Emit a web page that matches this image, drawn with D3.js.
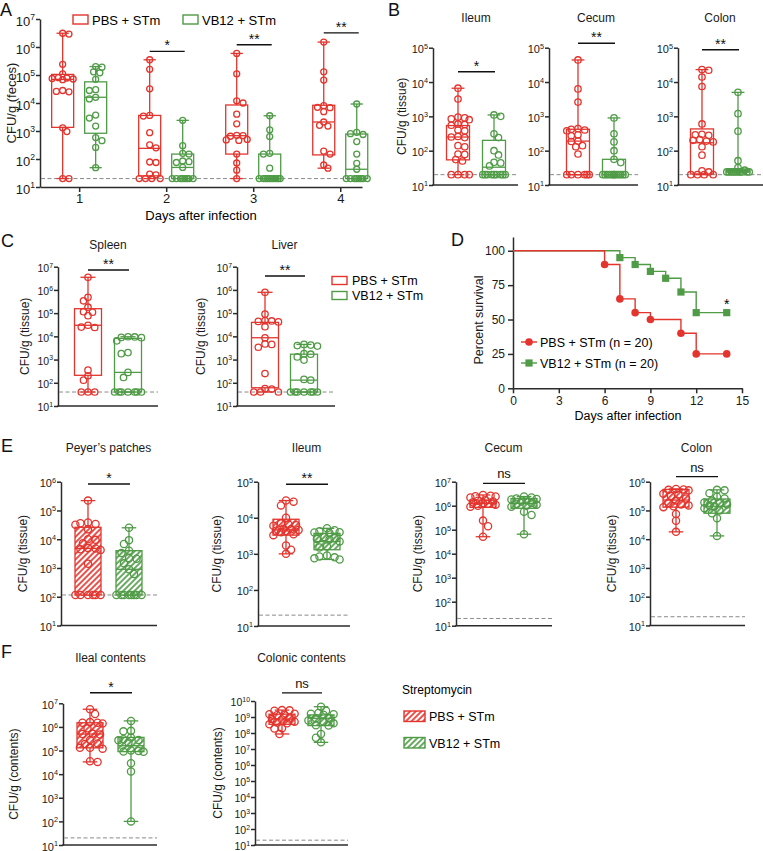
<!DOCTYPE html>
<html><head><meta charset="utf-8">
<script src="https://cdn.jsdelivr.net/npm/d3@7"></script>
<style>
body{margin:0;background:#fff;}
svg{font-family:"Liberation Sans",Arial,Helvetica,sans-serif;}
</style></head><body>
<svg id="fig" width="763" height="851"></svg>
<script>
// ================= DATA =================
const GROUPS = ["PBS + STm", "VB12 + STm"];

// ---- Panel A: feces CFU by day ----
const A_days = [1, 2, 3, 4];
const A_pbs = [
  [3.1e6, 2.9e6, 2.4e5, 1.1e5, 8e4, 7.8e4, 7.5e4, 7.2e4, 6.8e4, 2.8e4, 2.6e4, 2.5e4, 1.3e3, 9.5e2, 20, 20],
  [3.5e5, 1.6e5, 3.2e4, 3.6e3, 3.4e3, 8.7e2, 3.2e2, 2.5e2, 78, 75, 29, 27, 20, 20, 20, 20],
  [5.9e5, 1.1e5, 1.2e4, 1e4, 4e3, 1.8e3, 7e2, 6.8e2, 6.5e2, 4.8e2, 4.6e2, 5e2, 1.5e2, 72, 40, 20],
  [1.5e6, 1.3e5, 6.6e4, 8e3, 7e3, 6.8e3, 4.9e3, 2.1e3, 1.6e3, 1.5e3, 1.9e2, 1.5e2, 61, 47]
];
const A_vb12 = [
  [2e5, 1.9e5, 1.3e5, 1.2e5, 7e4, 3e4, 2.8e4, 1.6e4, 1.4e4, 3.7e3, 2.9e3, 1.5e3, 5.8e2, 4.5e2, 2.6e2, 49],
  [2.4e3, 3e2, 1.6e2, 1.5e2, 85, 80, 75, 50, 20, 20, 20, 20, 20, 20, 20, 20],
  [3.5e3, 1.1e3, 6.3e2, 1.6e2, 1.5e2, 47, 20, 20, 20, 20, 20, 20, 20, 20, 20, 20],
  [9.2e3, 9e2, 8e2, 7.5e2, 4.2e2, 1.5e2, 70, 43, 20, 20, 20, 20, 20, 20, 20, 20]
];
const A_pbsBox = [[1.35e3, 7e4, 1.05e5], [25, 2.4e2, 3.6e3], [1.5e2, 6.8e2, 8.5e3], [1.4e2, 2.1e3, 8.3e3]]; // q1, median, q3
const A_vb12Box = [[8.3e2, 1.6e4, 5.7e4], [20, 50, 1.5e2], [20, 20, 1.5e2], [20, 43, 7.8e2]];
const A_sig = ["", "*", "**", "**"];
const A_sigLevel = [null, 7e5, 1.2e6, 3.2e6];

// ---- Panel B: tissue CFU ----
const B_ileum_pbs = [6.6e3, 3.2e3, 9.5e2, 9e2, 8.5e2, 8e2, 6e2, 5.8e2, 5.5e2, 4e2, 3.8e2, 2.6e2, 2.5e2, 2.4e2, 1.4e2, 1.3e2, 80, 78, 55, 50, 20, 20, 20, 20];
const B_ileum_vb12 = [1.1e3, 1e3, 3.1e2, 2.4e2, 1e2, 75, 46, 44, 36, 20, 20, 20, 20, 20, 20, 20, 20, 20];
const B_cecum_pbs = [4.4e4, 6.3e3, 2.6e3, 4.4e2, 4.2e2, 4e2, 3.8e2, 2.9e2, 2.7e2, 1.9e2, 1.85e2, 1.4e2, 1.3e2, 80, 20, 20, 20, 20, 20, 20];
const B_cecum_vb12 = [9e2, 3.1e2, 1.8e2, 1e2, 56, 45, 20, 20, 20, 20, 20, 20, 20, 20, 20, 20, 20, 20];
const B_colon_pbs = [2.3e4, 2.2e4, 1.4e4, 7.4e3, 6e2, 3e2, 2.9e2, 2.8e2, 2.1e2, 2e2, 1.9e2, 1.8e2, 1.3e2, 74, 26, 24, 20, 20, 20, 20];
const B_colon_vb12 = [5e3, 1.2e3, 3.7e2, 51, 32, 27, 24, 24, 24, 24, 24, 24, 24, 24, 24, 24];
const B_boxes = {
  ileum: [[54, 2.5e2, 5.4e2], [20, 33, 2e2]],
  cecum: [[20, 1.9e2, 4.2e2], [20, 20, 56]],
  colon: [[21, 1.7e2, 4.3e2], [24, 24, 27]]
};

// ---- Panel C: systemic CFU ----
const C_spleen_pbs = [3.5e6, 4.8e5, 3.4e5, 1.8e5, 1.15e5, 1.1e5, 7.8e4, 3e4, 2.5e4, 2.4e4, 3.5e2, 2e2, 1.3e2, 40, 40, 40];
const C_spleen_vb12 = [9.6e3, 9.4e3, 9e3, 8.8e3, 6.4e3, 2e3, 1.8e3, 2.8e2, 1.7e2, 40, 40, 40, 40, 40, 40, 40];
const C_liver_pbs = [7.9e5, 9.1e4, 4.8e4, 4.6e4, 4.4e4, 4.2e4, 2.6e4, 8.7e3, 4.7e3, 4.5e3, 3.4e3, 2.5e2, 56, 54, 40, 40, 40];
const C_liver_vb12 = [4.5e3, 4.2e3, 4e3, 3.8e3, 1.8e3, 1.7e3, 1.3e3, 9.5e2, 1.4e2, 1.3e2, 40, 40, 40, 40, 40, 40, 40];
const C_boxes = {
  spleen: [[2.1e2, 3e4, 1.55e5], [40, 2.8e2, 8.2e3]],
  liver: [[61, 8.7e3, 4e4], [40, 1.3e2, 1.7e3]]
};

// ---- Panel D: survival ----
const D_pbsDays = [0, 6, 7, 8, 9, 11, 12, 14];
const D_pbsSurv = [100, 90, 65, 55, 50, 40, 25, 25];
const D_vb12Days = [0, 7, 8, 9, 10, 11, 12, 14];
const D_vb12Surv = [100, 95, 90, 85, 80, 70, 55, 55];

// ---- Panel E: streptomycin-pretreated tissue CFU ----
const E_pp_pbs = [2.2e5, 3.8e4, 3.6e4, 3.4e4, 3.2e4, 2.2e4, 1e4, 9.5e3, 7.2e3, 5e3, 4.8e3, 4.5e3, 4.2e3, 1.4e3, 115, 115, 115, 115, 115, 115];
const E_pp_vb12 = [2.5e4, 9.3e3, 6.8e3, 4e3, 3.3e3, 2.2e3, 2.1e3, 1.45e3, 9e2, 6.2e2, 115, 115, 115, 115, 115, 115, 115, 115];
const E_ileum_pbs = [3e4, 2.8e4, 2.2e4, 1e4, 7e3, 6.5e3, 6.2e3, 6e3, 5e3, 4.8e3, 4.6e3, 4.4e3, 4.2e3, 4e3, 3.5e3, 3.3e3, 1.7e3, 1.3e3, 1e3];
const E_ileum_vb12 = [5.1e3, 4.5e3, 4.2e3, 4e3, 3.9e3, 3.8e3, 2.9e3, 2.7e3, 2.6e3, 2.5e3, 2.2e3, 1.6e3, 1.5e3, 9e2, 8.5e2, 8e2, 7.5e2, 7e2];
const E_cecum_pbs = [2.8e6, 2.6e6, 2.5e6, 2.4e6, 2.2e6, 1.7e6, 1.6e6, 1.5e6, 1.4e6, 1.3e6, 1.2e6, 1.1e6, 1e6, 9e5, 2.4e5, 1.4e5, 5.1e4];
const E_cecum_vb12 = [2.4e6, 2.2e6, 2e6, 1.9e6, 1.8e6, 1.7e6, 1.5e6, 1.3e6, 1.2e6, 1.1e6, 1e6, 9e5, 5.6e5, 4.1e5, 6.5e4];
const E_colon_pbs = [5.6e5, 5.4e5, 5.2e5, 5e5, 3.8e5, 3.5e5, 3.2e5, 2.6e5, 2.2e5, 1.8e5, 1.6e5, 1.5e5, 1.4e5, 1.3e5, 7.5e4, 4.4e4, 1.8e4];
const E_colon_vb12 = [5.2e5, 5e5, 4e5, 3e5, 2.6e5, 2.2e5, 1.9e5, 1.8e5, 1.6e5, 1.5e5, 1.4e5, 1.2e5, 1e5, 8e4, 5.4e4, 1.3e4];
const E_boxes = {
  pp: [[115, 4.8e3, 2.6e4], [115, 9e2, 4e3]],
  ileum: [[3.3e3, 4.6e3, 9.1e3], [1.3e3, 2.2e3, 3.7e3]],
  cecum: [[8.5e5, 1.26e6, 1.7e6], [7.8e5, 1.25e6, 2e6]],
  colon: [[1.3e5, 2.3e5, 5.4e5], [8e4, 1.4e5, 2.5e5]]
};

// ---- Panel F: luminal contents CFU ----
const F_ileal_pbs = [5.6e6, 3.5e6, 1.6e6, 1.5e6, 1.5e6, 1.4e6, 8.7e5, 5.2e5, 5e5, 4.8e5, 2.8e5, 2e5, 1.9e5, 1.3e5, 1.3e5, 1.2e5, 3.5e4, 3.3e4];
const F_ileal_vb12 = [1.8e6, 6.8e5, 6.5e5, 3.6e5, 3e5, 2.8e5, 2.7e5, 2.2e5, 1e5, 9.5e4, 9e4, 8.8e4, 2.9e4, 1.3e4, 1e2];
const F_colonic_pbs = [2.7e9, 2.6e9, 2.5e9, 1.6e9, 1.5e9, 1.4e9, 1.3e9, 8e8, 7.5e8, 7e8, 5e8, 4.5e8, 4e8, 3.5e8, 2e8, 1.9e8, 8.7e7];
const F_colonic_vb12 = [4.4e9, 2.5e9, 1.8e9, 1.6e9, 1.5e9, 1.4e9, 9e8, 8.3e8, 6e8, 5e8, 4e8, 3e8, 2.9e8, 8.7e7, 5e7, 2.6e7];
const F_boxes = {
  ileal: [[1.3e5, 5e5, 1.5e6], [9e4, 1.6e5, 3.6e5]],
  colonic: [[3.5e8, 7.5e8, 1.5e9], [2.9e8, 8.3e8, 1.35e9]]
};

// ================= DRAWING =================
const RED = "#e3342d", GREEN = "#4f9b46", AX = "#2b2b2b";
const svg = d3.select("#fig");
const defs = svg.append("defs");
function hatch(id, color) {
  const p = defs.append("pattern").attr("id", id).attr("patternUnits", "userSpaceOnUse")
    .attr("width", 4).attr("height", 4).attr("patternTransform", "rotate(45)");
  p.append("rect").attr("width", 4).attr("height", 4).attr("fill", "#fff");
  p.append("line").attr("x1", 1).attr("y1", 0).attr("x2", 1).attr("y2", 4).attr("stroke", color).attr("stroke-width", 1.7);
}
hatch("hR", RED); hatch("hG", GREEN);
const COLORS = [RED, GREEN], HATCH = ["url(#hR)", "url(#hG)"];

function swarm(vals, y, r, half) {
  const pts = vals.map(v => ({ v, py: y(v) })).sort((a, b) => d3.ascending(a.py, b.py));
  const placed = [];
  const step = r * 0.7;
  const nSteps = Math.max(1, Math.floor(half / step));
  pts.forEach((p, i) => {
    let best = 0, bestD = -1;
    outer:
    for (let k = 0; k <= nSteps; k++) {
      const sides = k === 0 ? [1] : (i % 2 ? [1, -1] : [-1, 1]);
      for (const s of sides) {
        const dx = s * k * step;
        let minD = Infinity;
        placed.forEach(q => { const d = Math.hypot(q.dx - dx, q.py - p.py); if (d < minD) minD = d; });
        if (minD >= 1.75 * r) { best = dx; bestD = minD; break outer; }
        if (minD > bestD) { bestD = minD; best = dx; }
      }
    }
    p.dx = best; placed.push(p);
  });
  return pts;
}

function drawGroup(g, cx, vals, box, color, y, w, r, fill) {
  const [q1, med, q3] = box;
  const lo = d3.min(vals), hi = d3.max(vals);
  const gg = g.append("g").attr("stroke", color).attr("stroke-width", 1.3);
  gg.append("line").attr("x1", cx).attr("x2", cx).attr("y1", y(lo)).attr("y2", y(q1));
  gg.append("line").attr("x1", cx).attr("x2", cx).attr("y1", y(q3)).attr("y2", y(hi));
  [lo, hi].forEach(v => gg.append("line").attr("x1", cx - w * 0.28).attr("x2", cx + w * 0.28).attr("y1", y(v)).attr("y2", y(v)));
  gg.append("rect").attr("x", cx - w / 2).attr("y", y(q3)).attr("width", w)
    .attr("height", Math.max(0.5, y(q1) - y(q3))).attr("fill", fill || "none");
  gg.append("line").attr("x1", cx - w / 2).attr("x2", cx + w / 2).attr("y1", y(med)).attr("y2", y(med));
  gg.selectAll("circle").data(swarm(vals, y, r, w / 2)).join("circle")
    .attr("cx", d => cx + d.dx).attr("cy", d => d.py).attr("r", r).attr("fill", "none");
}

function logAxis(g, y, axisX, topExp, fs) {
  const ticks = d3.range(1, topExp + 1).map(e => Math.pow(10, e));
  const a = g.append("g").attr("transform", `translate(${axisX},0)`)
    .call(d3.axisLeft(y).tickValues(ticks).tickSize(4).tickSizeOuter(0).tickFormat(""));
  a.selectAll("path,line").attr("stroke", AX).attr("stroke-width", 1.5);
  ticks.forEach((t, i) => {
    const tx = g.append("text").attr("x", axisX - 5).attr("y", y(t) + fs * 0.5)
      .attr("text-anchor", "end").attr("font-size", fs).attr("fill", "#1a1a1a");
    tx.append("tspan").text("10");
    tx.append("tspan").attr("dy", -fs * 0.42).attr("font-size", fs * 0.66).text(i + 1);
  });
}

function lodLine(g, y, lod, x0, x1) {
  g.append("line").attr("x1", x0).attr("x2", x1).attr("y1", y(lod)).attr("y2", y(lod))
    .attr("stroke", "#8a8a8a").attr("stroke-width", 1).attr("stroke-dasharray", "4,2.5");
}

function sigBar(g, x1, x2, yy, txt) {
  g.append("line").attr("x1", x1).attr("x2", x2).attr("y1", yy).attr("y2", yy).attr("stroke", "#111").attr("stroke-width", 1.4);
  g.append("text").attr("x", (x1 + x2) / 2).attr("y", txt === "ns" ? yy - 5 : yy - 1)
    .attr("text-anchor", "middle").attr("font-size", txt === "ns" ? 13 : 14).attr("fill", "#111").text(txt);
}

function yLabel(g, text, cx, cy, fs) {
  g.append("text").attr("transform", `translate(${cx + fs * 0.35},${cy}) rotate(-90)`)
    .attr("text-anchor", "middle").attr("font-size", fs).attr("fill", "#1a1a1a").text(text);
}

function panelLetter(t, x, y) {
  svg.append("text").attr("x", x).attr("y", y).attr("font-size", 18).attr("fill", "#111").text(t);
}

// generic two-group subplot
function subplot(s) {
  const L = s.layout;
  const g = svg.append("g");
  const y = d3.scaleLog().domain([10, Math.pow(10, s.top)]).range([L.yBot, L.yTop]);
  const x = d3.scalePoint().domain(GROUPS).range([L.x1, L.x2]);
  logAxis(g, y, L.axisX, s.top, L.fs);
  g.append("line").attr("x1", L.axisX - 0.75).attr("x2", L.xEnd).attr("y1", L.yBot).attr("y2", L.yBot)
    .attr("stroke", AX).attr("stroke-width", 1.5);
  lodLine(g, y, s.lod, L.axisX + 1, L.xEnd);
  [s.pbs, s.vb].forEach((vals, i) =>
    drawGroup(g, x(GROUPS[i]), vals, s.boxes[i], COLORS[i], y, L.boxW, L.r, s.hatch ? HATCH[i] : null));
  sigBar(g, x(GROUPS[0]), x(GROUPS[1]) + 1, y(s.sigAt), s.sig);
  if (s.title) g.append("text").attr("x", (L.x1 + L.x2) / 2).attr("y", L.titleY).attr("text-anchor", "middle")
    .attr("font-size", 12).attr("fill", "#1a1a1a").text(s.title);
  if (s.ylabel) yLabel(g, s.ylabel, L.ylabX, (L.yTop + L.yBot) / 2, L.yfs || 12);
}

// ---------- Panel A ----------
(function () {
  const g = svg.append("g");
  const y = d3.scaleLog().domain([10, 1e7]).range([187, 19]);
  const x = d3.scaleLinear().domain([0.55, 4.25]).range([40, 362]);
  const off = d3.scalePoint().domain(GROUPS).range([-16.5, 16.5]);
  logAxis(g, y, 40, 7, 13);
  const xa = g.append("g").attr("transform", "translate(0,187)")
    .call(d3.axisBottom(x).tickValues(A_days).tickSize(5).tickPadding(2).tickSizeOuter(0).tickFormat(d3.format("d")));
  xa.selectAll("path,line").attr("stroke", AX).attr("stroke-width", 1.5);
  xa.selectAll("text").attr("font-size", 13).attr("fill", "#1a1a1a").attr("font-family", null);
  lodLine(g, y, 20, 41, 365);
  A_days.forEach((d, i) => {
    drawGroup(g, x(d) + off(GROUPS[0]), A_pbs[i], A_pbsBox[i], RED, y, 22, 3, null);
    drawGroup(g, x(d) + off(GROUPS[1]), A_vb12[i], A_vb12Box[i], GREEN, y, 22, 3, null);
    if (A_sig[i]) sigBar(g, x(d) + off(GROUPS[0]), x(d) + off(GROUPS[1]) + 2, y(A_sigLevel[i]), A_sig[i]);
  });
  yLabel(g, "CFU/g (feces)", 11, 103, 13);
  g.append("text").attr("x", 201).attr("y", 220).attr("text-anchor", "middle").attr("font-size", 13).text("Days after infection");
  // legend
  GROUPS.forEach((k, i) => {
    const lx = [73, 183][i];
    g.append("rect").attr("x", lx).attr("y", 15).attr("width", 15).attr("height", 9).attr("fill", "none")
      .attr("stroke", COLORS[i]).attr("stroke-width", 1.4);
    g.append("text").attr("x", lx + 19).attr("y", 24.5).attr("font-size", 13).text(k);
  });
  panelLetter("A", 0, 16);
})();

// ---------- Panel B ----------
const B_layoutBase = { yTop: 47.7, yBot: 185, boxW: 23, r: 3.2, fs: 11, titleY: 22 };
subplot({ title: "Ileum", pbs: B_ileum_pbs, vb: B_ileum_vb12, boxes: B_boxes.ileum, lod: 20, top: 5, sig: "*", sigAt: 2e4,
  ylabel: "CFU/g (tissue)", hatch: false, layout: Object.assign({ axisX: 433, xEnd: 518, x1: 458, x2: 494, ylabX: 402 }, B_layoutBase) });
subplot({ title: "Cecum", pbs: B_cecum_pbs, vb: B_cecum_vb12, boxes: B_boxes.cecum, lod: 20, top: 5, sig: "**", sigAt: 1.35e5,
  hatch: false, layout: Object.assign({ axisX: 549, xEnd: 638, x1: 578, x2: 614 }, B_layoutBase) });
subplot({ title: "Colon", pbs: B_colon_pbs, vb: B_colon_vb12, boxes: B_boxes.colon, lod: 20, top: 5, sig: "**", sigAt: 8.7e4,
  hatch: false, layout: Object.assign({ axisX: 678, xEnd: 763, x1: 702, x2: 738 }, B_layoutBase) });
panelLetter("B", 388, 16);

// ---------- Panel C ----------
const C_layoutBase = { yTop: 266.7, yBot: 406, boxW: 27, r: 3.2, fs: 10.5, titleY: 249 };
subplot({ title: "Spleen", pbs: C_spleen_pbs, vb: C_spleen_vb12, boxes: C_boxes.spleen, lod: 40, top: 7, sig: "**", sigAt: 7.2e6,
  ylabel: "CFU/g (tissue)", hatch: false, layout: Object.assign({ axisX: 58, xEnd: 158, x1: 88, x2: 128, ylabX: 25 }, C_layoutBase) });
subplot({ title: "Liver", pbs: C_liver_pbs, vb: C_liver_vb12, boxes: C_boxes.liver, lod: 40, top: 7, sig: "**", sigAt: 4e6,
  ylabel: "CFU/g (tissue)", hatch: false, layout: Object.assign({ axisX: 237, xEnd: 335, x1: 265, x2: 304, ylabX: 201 }, C_layoutBase) });
GROUPS.forEach((k, i) => {
  const ly = [276.5, 291.5][i];
  svg.append("rect").attr("x", 332).attr("y", ly).attr("width", 15).attr("height", 8).attr("fill", "none")
    .attr("stroke", COLORS[i]).attr("stroke-width", 1.4);
  svg.append("text").attr("x", 352).attr("y", ly + 8.5).attr("font-size", 12.5).text(k);
});
panelLetter("C", 1, 247);

// ---------- Panel D ----------
(function () {
  const g = svg.append("g");
  const x = d3.scaleLinear().domain([0, 15]).range([513, 742]);
  const y = d3.scaleLinear().domain([0, 110]).range([388.3, 237]);
  const ya = g.append("g").attr("transform", "translate(513,0)")
    .call(d3.axisLeft(y).tickValues([0, 25, 50, 75, 100]).tickSize(5).tickSizeOuter(0));
  const xa = g.append("g").attr("transform", "translate(0,388.3)")
    .call(d3.axisBottom(x).tickValues([0, 3, 6, 9, 12, 15]).tickSize(5).tickSizeOuter(0));
  [ya, xa].forEach(a => {
    a.selectAll("path,line").attr("stroke", AX).attr("stroke-width", 1.5);
    a.selectAll("text").attr("font-size", 12).attr("fill", "#1a1a1a").attr("font-family", null);
  });
  const line = d3.line().x(d => x(d[0])).y(d => y(d[1])).curve(d3.curveStepAfter);
  const vb = D_vb12Days.map((d, i) => [d, D_vb12Surv[i]]);
  const pb = D_pbsDays.map((d, i) => [d, D_pbsSurv[i]]);
  g.append("path").attr("d", line(vb)).attr("fill", "none").attr("stroke", GREEN).attr("stroke-width", 1.4);
  g.append("path").attr("d", line(pb)).attr("fill", "none").attr("stroke", RED).attr("stroke-width", 1.4);
  g.selectAll(".sq").data(vb.slice(1)).join("rect").attr("x", d => x(d[0]) - 3.6).attr("y", d => y(d[1]) - 3.6)
    .attr("width", 7.2).attr("height", 7.2).attr("fill", GREEN);
  g.selectAll(".ci").data(pb.slice(1)).join("circle").attr("cx", d => x(d[0])).attr("cy", d => y(d[1])).attr("r", 3.8).attr("fill", RED);
  g.append("text").attr("x", x(14)).attr("y", y(57) - 1).attr("text-anchor", "middle").attr("font-size", 14).text("*");
  // legend
  const leg = [["PBS + STm (n = 20)", RED, "c", 342], ["VB12 + STm (n = 20)", GREEN, "s", 363]];
  leg.forEach(([t, c, m, ly]) => {
    g.append("line").attr("x1", 521).attr("x2", 537).attr("y1", ly).attr("y2", ly).attr("stroke", c).attr("stroke-width", 1.4);
    if (m === "c") g.append("circle").attr("cx", 529).attr("cy", ly).attr("r", 3.8).attr("fill", c);
    else g.append("rect").attr("x", 525.4).attr("y", ly - 3.6).attr("width", 7.2).attr("height", 7.2).attr("fill", c);
    g.append("text").attr("x", 540).attr("y", ly + 4.5).attr("font-size", 12.5).text(t);
  });
  yLabel(g, "Percent survival", 479, 320, 12.5);
  g.append("text").attr("x", 628).attr("y", 420).attr("text-anchor", "middle").attr("font-size", 12.5).text("Days after infection");
  panelLetter("D", 451, 246);
})();

// ---------- Panel E ----------
const E_base = { boxW: 26, r: 3.6, fs: 11, titleY: 452, yTop: 481.7 };
subplot({ title: "Peyer\u2019s patches", pbs: E_pp_pbs, vb: E_pp_vb12, boxes: E_boxes.pp, lod: 115, top: 6, sig: "*", sigAt: 8.3e5,
  ylabel: "CFU/g (tissue)", hatch: true, layout: Object.assign({ axisX: 61, xEnd: 157, x1: 88, x2: 129, ylabX: 23, yBot: 625.5 }, E_base) });
subplot({ title: "Ileum", pbs: E_ileum_pbs, vb: E_ileum_vb12, boxes: E_boxes.ileum, lod: 20, top: 5, sig: "**", sigAt: 8.5e4,
  ylabel: "CFU/g (tissue)", hatch: true, layout: Object.assign({ axisX: 258, xEnd: 350, x1: 286, x2: 327, ylabX: 217, yBot: 626 }, E_base) });
subplot({ title: "Cecum", pbs: E_cecum_pbs, vb: E_cecum_vb12, boxes: E_boxes.cecum, lod: 20, top: 7, sig: "ns", sigAt: 8.5e6,
  ylabel: "CFU/g (tissue)", hatch: true, layout: Object.assign({ axisX: 456, xEnd: 552, x1: 483, x2: 524, ylabX: 418, yBot: 625.7 }, E_base) });
subplot({ title: "Colon", pbs: E_colon_pbs, vb: E_colon_vb12, boxes: E_boxes.colon, lod: 20, top: 6, sig: "ns", sigAt: 1.5e6,
  ylabel: "CFU/g (tissue)", hatch: true, layout: Object.assign({ axisX: 650, xEnd: 745, x1: 676, x2: 717, ylabX: 612, yBot: 625.4 }, E_base) });
panelLetter("E", 1, 452);

// ---------- Panel F ----------
const F_base = { boxW: 26, r: 3.6, titleY: 662, yBot: 845 };
subplot({ title: "Ileal contents", pbs: F_ileal_pbs, vb: F_ileal_vb12, boxes: F_boxes.ileal, lod: 20, top: 7, sig: "*", sigAt: 2.8e7,
  ylabel: "CFU/g (contents)", hatch: true, layout: Object.assign({ axisX: 63, xEnd: 157, x1: 90, x2: 131, ylabX: 14, yTop: 703.3, fs: 11 }, F_base) });
subplot({ title: "Colonic contents", pbs: F_colonic_pbs, vb: F_colonic_vb12, boxes: F_boxes.colonic, lod: 20, top: 10, sig: "ns", sigAt: 3.2e10,
  ylabel: "CFU/g (contents)", hatch: true, layout: Object.assign({ axisX: 255, xEnd: 348, x1: 282, x2: 321, ylabX: 218, yTop: 701, fs: 10.5 }, F_base) });
svg.append("text").attr("x", 402).attr("y", 694).attr("font-size", 12).text("Streptomycin");
GROUPS.forEach((k, i) => {
  const ly = [711, 737.5][i];
  svg.append("rect").attr("x", 404).attr("y", ly).attr("width", 21).attr("height", 10.5).attr("fill", HATCH[i])
    .attr("stroke", COLORS[i]).attr("stroke-width", 1.4);
  svg.append("text").attr("x", 429).attr("y", ly + 10).attr("font-size", 12.5).text(k);
});
panelLetter("F", 1, 658);
</script></body></html>
